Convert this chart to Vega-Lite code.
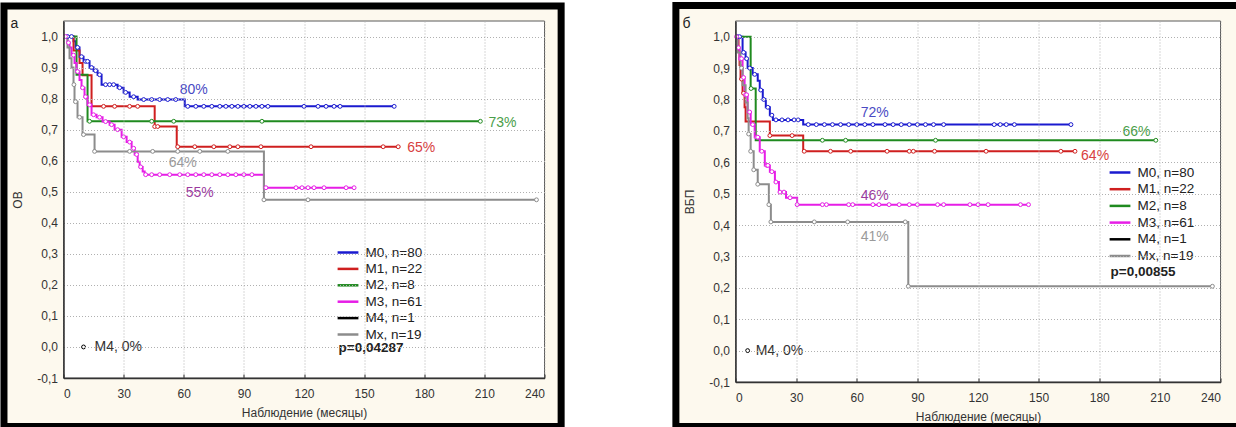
{
  "$schema": "https://vega.github.io/schema/vega-lite/v6.json",
  "padding": {"left": -0.5, "top": 2, "right": 0, "bottom": 0},
  "spacing": 106,
  "config": {"font": "Liberation Sans", "view": {"stroke": null},
    "locale": {"number": {"decimal": ",", "thousands": " ", "grouping": [3], "currency": ["", ""], "minus": "-"}}},
  "resolve": {
    "scale": {"x": "independent", "y": "independent", "stroke": "independent", "fill": "independent"},
    "legend": {"stroke": "independent"},
    "axis": {"x": "independent", "y": "independent"}
  },
  "datasets": {
    "F": [{"one": 1}],
    "A": [
      {"g":"M0","k":"l","t":0,"s":1},{"g":"M0","k":"l","t":5,"s":0.985},{"g":"M0","k":"l","t":6,"s":0.965},{"g":"M0","k":"l","t":8,"s":0.935},{"g":"M0","k":"l","t":10,"s":0.92},{"g":"M0","k":"l","t":13,"s":0.9},{"g":"M0","k":"l","t":15,"s":0.89},{"g":"M0","k":"l","t":17,"s":0.877},{"g":"M0","k":"l","t":19,"s":0.845},{"g":"M0","k":"l","t":27,"s":0.835},{"g":"M0","k":"l","t":30,"s":0.82},{"g":"M0","k":"l","t":33,"s":0.806},{"g":"M0","k":"l","t":37,"s":0.797},{"g":"M0","k":"l","t":60.5,"s":0.775},{"g":"M0","k":"l","t":165,"s":0.775},
      {"g":"M0","k":"c","t":2,"s":1},{"g":"M0","k":"c","t":4,"s":1},{"g":"M0","k":"c","t":7,"s":0.965},{"g":"M0","k":"c","t":9,"s":0.935},{"g":"M0","k":"c","t":11,"s":0.92},{"g":"M0","k":"c","t":12,"s":0.92},{"g":"M0","k":"c","t":14,"s":0.9},{"g":"M0","k":"c","t":16,"s":0.89},{"g":"M0","k":"c","t":18,"s":0.877},{"g":"M0","k":"c","t":21,"s":0.845},{"g":"M0","k":"c","t":23,"s":0.845},{"g":"M0","k":"c","t":25,"s":0.845},{"g":"M0","k":"c","t":28,"s":0.835},{"g":"M0","k":"c","t":31,"s":0.82},{"g":"M0","k":"c","t":35,"s":0.806},{"g":"M0","k":"c","t":40,"s":0.797},{"g":"M0","k":"c","t":44,"s":0.797},{"g":"M0","k":"c","t":48,"s":0.797},{"g":"M0","k":"c","t":52,"s":0.797},{"g":"M0","k":"c","t":56,"s":0.797},{"g":"M0","k":"c","t":62,"s":0.775},{"g":"M0","k":"c","t":66,"s":0.775},{"g":"M0","k":"c","t":70,"s":0.775},{"g":"M0","k":"c","t":74,"s":0.775},{"g":"M0","k":"c","t":78,"s":0.775},{"g":"M0","k":"c","t":81,"s":0.775},{"g":"M0","k":"c","t":84,"s":0.775},{"g":"M0","k":"c","t":87,"s":0.775},{"g":"M0","k":"c","t":90,"s":0.775},{"g":"M0","k":"c","t":93,"s":0.775},{"g":"M0","k":"c","t":96,"s":0.775},{"g":"M0","k":"c","t":99,"s":0.775},{"g":"M0","k":"c","t":102,"s":0.775},{"g":"M0","k":"c","t":120,"s":0.775},{"g":"M0","k":"c","t":127,"s":0.775},{"g":"M0","k":"c","t":131,"s":0.775},{"g":"M0","k":"c","t":135,"s":0.775},{"g":"M0","k":"c","t":138,"s":0.775},{"g":"M0","k":"c","t":165,"s":0.775},
      {"g":"M1","k":"l","t":0,"s":1},{"g":"M1","k":"l","t":5,"s":0.955},{"g":"M1","k":"l","t":8,"s":0.915},{"g":"M1","k":"l","t":9.5,"s":0.875},{"g":"M1","k":"l","t":14,"s":0.775},{"g":"M1","k":"l","t":45.5,"s":0.71},{"g":"M1","k":"l","t":56.5,"s":0.645},{"g":"M1","k":"l","t":168,"s":0.645},
      {"g":"M1","k":"c","t":20,"s":0.775},{"g":"M1","k":"c","t":25.5,"s":0.775},{"g":"M1","k":"c","t":33,"s":0.775},{"g":"M1","k":"c","t":37,"s":0.775},{"g":"M1","k":"c","t":45.5,"s":0.71},{"g":"M1","k":"c","t":47,"s":0.71},{"g":"M1","k":"c","t":57,"s":0.645},{"g":"M1","k":"c","t":65.5,"s":0.645},{"g":"M1","k":"c","t":75,"s":0.645},{"g":"M1","k":"c","t":83,"s":0.645},{"g":"M1","k":"c","t":87,"s":0.645},{"g":"M1","k":"c","t":98.5,"s":0.645},{"g":"M1","k":"c","t":123.5,"s":0.645},{"g":"M1","k":"c","t":159.5,"s":0.645},{"g":"M1","k":"c","t":167,"s":0.645},
      {"g":"M2","k":"l","t":0,"s":1},{"g":"M2","k":"l","t":6.5,"s":0.877},{"g":"M2","k":"l","t":12,"s":0.727},{"g":"M2","k":"l","t":208,"s":0.727},
      {"g":"M2","k":"c","t":13,"s":0.727},{"g":"M2","k":"c","t":44,"s":0.727},{"g":"M2","k":"c","t":55,"s":0.727},{"g":"M2","k":"c","t":99,"s":0.727},{"g":"M2","k":"c","t":208,"s":0.727},
      {"g":"M3","k":"l","t":0,"s":1},{"g":"M3","k":"l","t":2,"s":0.98},{"g":"M3","k":"l","t":3,"s":0.965},{"g":"M3","k":"l","t":4,"s":0.94},{"g":"M3","k":"l","t":5.5,"s":0.915},{"g":"M3","k":"l","t":6.5,"s":0.887},{"g":"M3","k":"l","t":8,"s":0.86},{"g":"M3","k":"l","t":9,"s":0.835},{"g":"M3","k":"l","t":10.5,"s":0.806},{"g":"M3","k":"l","t":12,"s":0.78},{"g":"M3","k":"l","t":14,"s":0.748},{"g":"M3","k":"l","t":16.5,"s":0.74},{"g":"M3","k":"l","t":19.5,"s":0.726},{"g":"M3","k":"l","t":23,"s":0.716},{"g":"M3","k":"l","t":25.5,"s":0.7},{"g":"M3","k":"l","t":29,"s":0.677},{"g":"M3","k":"l","t":31.5,"s":0.66},{"g":"M3","k":"l","t":34,"s":0.64},{"g":"M3","k":"l","t":35.5,"s":0.62},{"g":"M3","k":"l","t":37,"s":0.597},{"g":"M3","k":"l","t":38,"s":0.58},{"g":"M3","k":"l","t":39.5,"s":0.565},{"g":"M3","k":"l","t":40.5,"s":0.555},{"g":"M3","k":"l","t":100,"s":0.513},{"g":"M3","k":"l","t":145,"s":0.513},
      {"g":"M3","k":"c","t":1,"s":1},{"g":"M3","k":"c","t":2.5,"s":0.98},{"g":"M3","k":"c","t":5,"s":0.94},{"g":"M3","k":"c","t":7,"s":0.887},{"g":"M3","k":"c","t":9.5,"s":0.835},{"g":"M3","k":"c","t":11,"s":0.806},{"g":"M3","k":"c","t":13,"s":0.78},{"g":"M3","k":"c","t":15,"s":0.748},{"g":"M3","k":"c","t":18,"s":0.74},{"g":"M3","k":"c","t":21,"s":0.726},{"g":"M3","k":"c","t":24,"s":0.716},{"g":"M3","k":"c","t":27,"s":0.7},{"g":"M3","k":"c","t":30,"s":0.677},{"g":"M3","k":"c","t":33,"s":0.66},{"g":"M3","k":"c","t":35,"s":0.64},{"g":"M3","k":"c","t":36.5,"s":0.62},{"g":"M3","k":"c","t":38.5,"s":0.58},{"g":"M3","k":"c","t":41,"s":0.555},{"g":"M3","k":"c","t":44,"s":0.555},{"g":"M3","k":"c","t":48,"s":0.555},{"g":"M3","k":"c","t":53,"s":0.555},{"g":"M3","k":"c","t":58,"s":0.555},{"g":"M3","k":"c","t":62,"s":0.555},{"g":"M3","k":"c","t":66,"s":0.555},{"g":"M3","k":"c","t":70,"s":0.555},{"g":"M3","k":"c","t":74,"s":0.555},{"g":"M3","k":"c","t":78,"s":0.555},{"g":"M3","k":"c","t":82,"s":0.555},{"g":"M3","k":"c","t":86,"s":0.555},{"g":"M3","k":"c","t":90,"s":0.555},{"g":"M3","k":"c","t":94,"s":0.555},{"g":"M3","k":"c","t":101,"s":0.513},{"g":"M3","k":"c","t":116,"s":0.513},{"g":"M3","k":"c","t":119,"s":0.513},{"g":"M3","k":"c","t":122,"s":0.513},{"g":"M3","k":"c","t":125,"s":0.513},{"g":"M3","k":"c","t":130,"s":0.513},{"g":"M3","k":"c","t":141,"s":0.513},{"g":"M3","k":"c","t":145,"s":0.513},
      {"g":"Mx","k":"l","t":0,"s":1},{"g":"Mx","k":"l","t":2,"s":0.965},{"g":"Mx","k":"l","t":3,"s":0.93},{"g":"Mx","k":"l","t":4,"s":0.9},{"g":"Mx","k":"l","t":5,"s":0.845},{"g":"Mx","k":"l","t":5.5,"s":0.79},{"g":"Mx","k":"l","t":7,"s":0.74},{"g":"Mx","k":"l","t":9.5,"s":0.684},{"g":"Mx","k":"l","t":15.5,"s":0.63},{"g":"Mx","k":"l","t":100,"s":0.474},{"g":"Mx","k":"l","t":236,"s":0.474},
      {"g":"Mx","k":"c","t":5.2,"s":0.845},{"g":"Mx","k":"c","t":6,"s":0.79},{"g":"Mx","k":"c","t":8,"s":0.74},{"g":"Mx","k":"c","t":10,"s":0.684},{"g":"Mx","k":"c","t":15.5,"s":0.63},{"g":"Mx","k":"c","t":33,"s":0.63},{"g":"Mx","k":"c","t":44.5,"s":0.63},{"g":"Mx","k":"c","t":57,"s":0.63},{"g":"Mx","k":"c","t":68,"s":0.63},{"g":"Mx","k":"c","t":82,"s":0.63},{"g":"Mx","k":"c","t":100,"s":0.474},{"g":"Mx","k":"c","t":122,"s":0.474},{"g":"Mx","k":"c","t":236,"s":0.474},
      {"g":"M4","k":"c","t":10,"s":0},
      {"g":"M0","k":"t","t":58,"s":0.829,"txt":"80%"},{"g":"M2","k":"t","t":212,"s":0.723,"txt":"73%"},{"g":"M1","k":"t","t":171.5,"s":0.642,"txt":"65%"},{"g":"Mx","k":"t","t":52.5,"s":0.593,"txt":"64%"},{"g":"M3","k":"t","t":61,"s":0.497,"txt":"55%"},{"g":"M4","k":"t","t":15.5,"s":0,"txt":"M4, 0%"}
    ],
    "B": [
      {"g":"M0","k":"l","t":0,"s":1},{"g":"M0","k":"l","t":3.5,"s":0.95},{"g":"M0","k":"l","t":5,"s":0.93},{"g":"M0","k":"l","t":6,"s":0.9},{"g":"M0","k":"l","t":8.5,"s":0.88},{"g":"M0","k":"l","t":11,"s":0.86},{"g":"M0","k":"l","t":12,"s":0.83},{"g":"M0","k":"l","t":13.5,"s":0.8},{"g":"M0","k":"l","t":15,"s":0.775},{"g":"M0","k":"l","t":17,"s":0.75},{"g":"M0","k":"l","t":18.5,"s":0.735},{"g":"M0","k":"l","t":33.5,"s":0.72},{"g":"M0","k":"l","t":166,"s":0.72},
      {"g":"M0","k":"c","t":1,"s":1},{"g":"M0","k":"c","t":2,"s":1},{"g":"M0","k":"c","t":4,"s":0.95},{"g":"M0","k":"c","t":5.5,"s":0.93},{"g":"M0","k":"c","t":7,"s":0.9},{"g":"M0","k":"c","t":9.5,"s":0.88},{"g":"M0","k":"c","t":12.5,"s":0.83},{"g":"M0","k":"c","t":14,"s":0.8},{"g":"M0","k":"c","t":16,"s":0.775},{"g":"M0","k":"c","t":18,"s":0.75},{"g":"M0","k":"c","t":20,"s":0.735},{"g":"M0","k":"c","t":23,"s":0.735},{"g":"M0","k":"c","t":26,"s":0.735},{"g":"M0","k":"c","t":29,"s":0.735},{"g":"M0","k":"c","t":31,"s":0.735},{"g":"M0","k":"c","t":36,"s":0.72},{"g":"M0","k":"c","t":40,"s":0.72},{"g":"M0","k":"c","t":44,"s":0.72},{"g":"M0","k":"c","t":48,"s":0.72},{"g":"M0","k":"c","t":52,"s":0.72},{"g":"M0","k":"c","t":56,"s":0.72},{"g":"M0","k":"c","t":60,"s":0.72},{"g":"M0","k":"c","t":64,"s":0.72},{"g":"M0","k":"c","t":68,"s":0.72},{"g":"M0","k":"c","t":74,"s":0.72},{"g":"M0","k":"c","t":78,"s":0.72},{"g":"M0","k":"c","t":82,"s":0.72},{"g":"M0","k":"c","t":86,"s":0.72},{"g":"M0","k":"c","t":90,"s":0.72},{"g":"M0","k":"c","t":94,"s":0.72},{"g":"M0","k":"c","t":98,"s":0.72},{"g":"M0","k":"c","t":103,"s":0.72},{"g":"M0","k":"c","t":128,"s":0.72},{"g":"M0","k":"c","t":131,"s":0.72},{"g":"M0","k":"c","t":134,"s":0.72},{"g":"M0","k":"c","t":138,"s":0.72},{"g":"M0","k":"c","t":166,"s":0.72},
      {"g":"M1","k":"l","t":0,"s":1},{"g":"M1","k":"l","t":1.5,"s":0.955},{"g":"M1","k":"l","t":2,"s":0.91},{"g":"M1","k":"l","t":2.5,"s":0.865},{"g":"M1","k":"l","t":3.5,"s":0.82},{"g":"M1","k":"l","t":4.5,"s":0.775},{"g":"M1","k":"l","t":5,"s":0.73},{"g":"M1","k":"l","t":17,"s":0.685},{"g":"M1","k":"l","t":33.5,"s":0.635},{"g":"M1","k":"l","t":168,"s":0.635},
      {"g":"M1","k":"c","t":3,"s":0.865},{"g":"M1","k":"c","t":4,"s":0.82},{"g":"M1","k":"c","t":17,"s":0.685},{"g":"M1","k":"c","t":28,"s":0.685},{"g":"M1","k":"c","t":34,"s":0.635},{"g":"M1","k":"c","t":47,"s":0.635},{"g":"M1","k":"c","t":57,"s":0.635},{"g":"M1","k":"c","t":75,"s":0.635},{"g":"M1","k":"c","t":86,"s":0.635},{"g":"M1","k":"c","t":88,"s":0.635},{"g":"M1","k":"c","t":98.5,"s":0.635},{"g":"M1","k":"c","t":124,"s":0.635},{"g":"M1","k":"c","t":161,"s":0.635},{"g":"M1","k":"c","t":168,"s":0.635},
      {"g":"M2","k":"l","t":0,"s":1},{"g":"M2","k":"l","t":7.5,"s":0.835},{"g":"M2","k":"l","t":10,"s":0.67},{"g":"M2","k":"l","t":208,"s":0.67},
      {"g":"M2","k":"c","t":7.7,"s":0.835},{"g":"M2","k":"c","t":43,"s":0.67},{"g":"M2","k":"c","t":54.5,"s":0.67},{"g":"M2","k":"c","t":99,"s":0.67},{"g":"M2","k":"c","t":208,"s":0.67},
      {"g":"M3","k":"l","t":0,"s":1},{"g":"M3","k":"l","t":1,"s":0.965},{"g":"M3","k":"l","t":2,"s":0.93},{"g":"M3","k":"l","t":3.5,"s":0.87},{"g":"M3","k":"l","t":4.5,"s":0.815},{"g":"M3","k":"l","t":6,"s":0.76},{"g":"M3","k":"l","t":7.5,"s":0.72},{"g":"M3","k":"l","t":9.5,"s":0.68},{"g":"M3","k":"l","t":12,"s":0.635},{"g":"M3","k":"l","t":14.5,"s":0.59},{"g":"M3","k":"l","t":17,"s":0.57},{"g":"M3","k":"l","t":19.5,"s":0.537},{"g":"M3","k":"l","t":21.5,"s":0.505},{"g":"M3","k":"l","t":25,"s":0.487},{"g":"M3","k":"l","t":30.5,"s":0.465},{"g":"M3","k":"l","t":145,"s":0.465},
      {"g":"M3","k":"c","t":0.5,"s":1},{"g":"M3","k":"c","t":1.5,"s":0.965},{"g":"M3","k":"c","t":2.5,"s":0.93},{"g":"M3","k":"c","t":3,"s":0.93},{"g":"M3","k":"c","t":4,"s":0.87},{"g":"M3","k":"c","t":5,"s":0.815},{"g":"M3","k":"c","t":5.5,"s":0.815},{"g":"M3","k":"c","t":7,"s":0.76},{"g":"M3","k":"c","t":8.5,"s":0.72},{"g":"M3","k":"c","t":10.5,"s":0.68},{"g":"M3","k":"c","t":11,"s":0.68},{"g":"M3","k":"c","t":13,"s":0.635},{"g":"M3","k":"c","t":15.5,"s":0.59},{"g":"M3","k":"c","t":16,"s":0.59},{"g":"M3","k":"c","t":18,"s":0.57},{"g":"M3","k":"c","t":20,"s":0.537},{"g":"M3","k":"c","t":22,"s":0.505},{"g":"M3","k":"c","t":24,"s":0.505},{"g":"M3","k":"c","t":27,"s":0.487},{"g":"M3","k":"c","t":30.5,"s":0.465},{"g":"M3","k":"c","t":43,"s":0.465},{"g":"M3","k":"c","t":45,"s":0.465},{"g":"M3","k":"c","t":56,"s":0.465},{"g":"M3","k":"c","t":58,"s":0.465},{"g":"M3","k":"c","t":68,"s":0.465},{"g":"M3","k":"c","t":71,"s":0.465},{"g":"M3","k":"c","t":76,"s":0.465},{"g":"M3","k":"c","t":81,"s":0.465},{"g":"M3","k":"c","t":86,"s":0.465},{"g":"M3","k":"c","t":90,"s":0.465},{"g":"M3","k":"c","t":100,"s":0.465},{"g":"M3","k":"c","t":103,"s":0.465},{"g":"M3","k":"c","t":116,"s":0.465},{"g":"M3","k":"c","t":120,"s":0.465},{"g":"M3","k":"c","t":125,"s":0.465},{"g":"M3","k":"c","t":141,"s":0.465},{"g":"M3","k":"c","t":145,"s":0.465},
      {"g":"Mx","k":"l","t":0,"s":1},{"g":"Mx","k":"l","t":1,"s":0.95},{"g":"Mx","k":"l","t":2.5,"s":0.9},{"g":"Mx","k":"l","t":3.5,"s":0.845},{"g":"Mx","k":"l","t":5,"s":0.79},{"g":"Mx","k":"l","t":6,"s":0.74},{"g":"Mx","k":"l","t":6.5,"s":0.69},{"g":"Mx","k":"l","t":7.5,"s":0.635},{"g":"Mx","k":"l","t":9,"s":0.576},{"g":"Mx","k":"l","t":11,"s":0.53},{"g":"Mx","k":"l","t":16.5,"s":0.465},{"g":"Mx","k":"l","t":17.5,"s":0.41},{"g":"Mx","k":"l","t":85.5,"s":0.205},{"g":"Mx","k":"l","t":236,"s":0.205},
      {"g":"Mx","k":"c","t":3,"s":0.9},{"g":"Mx","k":"c","t":6.5,"s":0.69},{"g":"Mx","k":"c","t":7.5,"s":0.635},{"g":"Mx","k":"c","t":9,"s":0.576},{"g":"Mx","k":"c","t":11,"s":0.53},{"g":"Mx","k":"c","t":16.5,"s":0.465},{"g":"Mx","k":"c","t":17.5,"s":0.41},{"g":"Mx","k":"c","t":39,"s":0.41},{"g":"Mx","k":"c","t":55.5,"s":0.41},{"g":"Mx","k":"c","t":84,"s":0.41},{"g":"Mx","k":"c","t":85.5,"s":0.205},{"g":"Mx","k":"c","t":236,"s":0.205},
      {"g":"M4","k":"c","t":6,"s":0},
      {"g":"M0","k":"t","t":62,"s":0.757,"txt":"72%"},{"g":"M2","k":"t","t":191.5,"s":0.697,"txt":"66%"},{"g":"M1","k":"t","t":171,"s":0.62,"txt":"64%"},{"g":"M3","k":"t","t":62,"s":0.493,"txt":"46%"},{"g":"Mx","k":"t","t":62,"s":0.363,"txt":"41%"},{"g":"M4","k":"t","t":10,"s":0,"txt":"M4, 0%"}
    ]
  },
  "hconcat": [
    {
      "width": 481, "height": 357,
      "layer": [
        {"data": {"name": "F"}, "mark": {"type": "rect", "fill": "#fdf9ee", "stroke": "#000", "strokeWidth": 7},
          "encoding": {"x": {"datum": -29.7, "type": "quantitative"}, "x2": {"datum": 248.3}, "y": {"datum": 1.098, "type": "quantitative"}, "y2": {"datum": -0.256}}},
        {"data": {"name": "F"}, "mark": {"type": "rect", "fill": "#ffffff", "stroke": "#5a5a5a", "strokeWidth": 1},
          "encoding": {"x": {"datum": 0, "type": "quantitative"}, "x2": {"datum": 240}, "y": {"datum": -0.1, "type": "quantitative"}, "y2": {"datum": 1.05}}},
        {"data": {"name": "A"}, "transform": [{"filter": "datum.k === 'l'"}], "mark": {"type": "line", "interpolate": "step-after", "strokeWidth": 2},
          "encoding": {
            "x": {"field": "t", "type": "quantitative", "scale": {"domain": [0, 240], "nice": false, "zero": false},
              "axis": {"title": "Наблюдение (месяцы)", "values": [0,30,60,90,120,150,180,210,240], "tickCount": 20, "labelOverlap": false, "grid": true, "gridDash": [1,2], "gridColor": "#b0b0b0", "domainColor": "#333", "domainWidth": 1.5, "ticks": true, "tickSize": -4, "tickColor": "#333", "labelFontSize": 12, "labelColor": "#333", "labelPadding": 14, "titleFontSize": 12, "titleFontWeight": "normal", "titleColor": "#333", "titlePadding": 8, "zindex": 1}},
            "y": {"field": "s", "type": "quantitative", "scale": {"domain": [-0.1, 1.05], "nice": false, "zero": false},
              "axis": {"title": "ОВ", "values": [-0.1,0,0.1,0.2,0.3,0.4,0.5,0.6,0.7,0.8,0.9,1], "tickCount": 20, "format": ".1f", "labelOverlap": false, "grid": true, "gridDash": [1,2], "gridColor": "#b0b0b0", "domainColor": "#333", "domainWidth": 1.5, "ticks": false, "labelFontSize": 12, "labelColor": "#333", "labelPadding": 6, "titleFontSize": 12, "titleFontWeight": "normal", "titleColor": "#333", "titlePadding": 12, "zindex": 1}},
            "stroke": {"field": "g", "type": "nominal",
            "scale": {"domain": ["M0","M1","M2","M3","M4","Mx"], "range": ["#1a1acf","#cf1f1f","#1f8a1f","#e61ee6","#000000","#8c8c8c"]},
            "legend": {"orient": "none", "legendX": 275, "legendY": 222, "padding": 0, "symbolType": "M-1.3,0H1.3", "symbolSize": 256, "symbolStrokeWidth": 2.5, "labelFontSize": 13.5, "labelColor": "#222", "labelOffset": 8, "rowPadding": 0.4,
              "labelExpr": "datum.label == 'M0' ? 'M0, n=80' : datum.label == 'M1' ? 'M1, n=22' : datum.label == 'M2' ? 'M2, n=8' : datum.label == 'M3' ? 'M3, n=61' : datum.label == 'M4' ? 'M4, n=1' : 'Mx, n=19'",
              "title": "p=0,04287", "titleOrient": "bottom", "titleAnchor": "start", "titleFontSize": 13.5, "titleFontWeight": "bold", "titleColor": "#222", "titlePadding": 0}}}},
        {"data": {"name": "A"}, "transform": [{"filter": "datum.k === 'c'"}], "mark": {"type": "point", "shape": "circle", "filled": false, "fill": "#ffffff", "fillOpacity": 1, "size": 15, "strokeWidth": 1, "opacity": 1},
          "encoding": {"x": {"field": "t", "type": "quantitative"}, "y": {"field": "s", "type": "quantitative"},
            "stroke": {"field": "g", "type": "nominal", "legend": null,
            "scale": {"domain": ["M0","M1","M2","M3","M4","Mx"], "range": ["#1a1acf","#cf1f1f","#1f8a1f","#e61ee6","#000000","#8c8c8c"]}}}},
        {"data": {"name": "A"}, "transform": [{"filter": "datum.k === 't'"}], "mark": {"type": "text", "align": "left", "baseline": "middle", "fontSize": 14},
          "encoding": {"x": {"field": "t", "type": "quantitative"}, "y": {"field": "s", "type": "quantitative"}, "text": {"field": "txt"}, "fill": {"field": "g", "type": "nominal", "legend": null,
            "scale": {"domain": ["M0","M1","M2","M3","M4","Mx"], "range": ["#4a4ac4","#d84040","#4a9e4a","#9b3a9e","#333333","#9a9a9a"]}}}},
        {"data": {"name": "F"}, "mark": {"type": "text", "text": "а", "fontSize": 14, "align": "left", "baseline": "alphabetic", "color": "#222"},
          "encoding": {"x": {"datum": -26.5, "type": "quantitative"}, "y": {"datum": 1.029, "type": "quantitative"}}}
      ]
    },
    {
      "width": 485, "height": 361,
      "layer": [
        {"data": {"name": "F"}, "mark": {"type": "rect", "fill": "#fdf9ee", "stroke": "#000", "strokeWidth": 7},
          "encoding": {"x": {"datum": -29.5, "type": "quantitative"}, "x2": {"datum": 250}, "y": {"datum": 1.099, "type": "quantitative"}, "y2": {"datum": -0.242}}},
        {"data": {"name": "F"}, "mark": {"type": "rect", "fill": "#ffffff", "stroke": "#5a5a5a", "strokeWidth": 1},
          "encoding": {"x": {"datum": 0, "type": "quantitative"}, "x2": {"datum": 240}, "y": {"datum": -0.1, "type": "quantitative"}, "y2": {"datum": 1.05}}},
        {"data": {"name": "B"}, "transform": [{"filter": "datum.k === 'l'"}], "mark": {"type": "line", "interpolate": "step-after", "strokeWidth": 2},
          "encoding": {
            "x": {"field": "t", "type": "quantitative", "scale": {"domain": [0, 240], "nice": false, "zero": false},
              "axis": {"title": "Наблюдение (месяцы)", "values": [0,30,60,90,120,150,180,210,240], "tickCount": 20, "labelOverlap": false, "grid": true, "gridDash": [1,2], "gridColor": "#b0b0b0", "domainColor": "#333", "domainWidth": 1.5, "ticks": true, "tickSize": -4, "tickColor": "#333", "labelFontSize": 12, "labelColor": "#333", "labelPadding": 14, "titleFontSize": 12, "titleFontWeight": "normal", "titleColor": "#333", "titlePadding": 8, "zindex": 1}},
            "y": {"field": "s", "type": "quantitative", "scale": {"domain": [-0.1, 1.05], "nice": false, "zero": false},
              "axis": {"title": "ВБП", "values": [-0.1,0,0.1,0.2,0.3,0.4,0.5,0.6,0.7,0.8,0.9,1], "tickCount": 20, "format": ".1f", "labelOverlap": false, "grid": true, "gridDash": [1,2], "gridColor": "#b0b0b0", "domainColor": "#333", "domainWidth": 1.5, "ticks": false, "labelFontSize": 12, "labelColor": "#333", "labelPadding": 6, "titleFontSize": 12, "titleFontWeight": "normal", "titleColor": "#333", "titlePadding": 12, "zindex": 1}},
            "stroke": {"field": "g", "type": "nominal",
            "scale": {"domain": ["M0","M1","M2","M3","M4","Mx"], "range": ["#1a1acf","#cf1f1f","#1f8a1f","#e61ee6","#000000","#8c8c8c"]},
            "legend": {"orient": "none", "legendX": 375, "legendY": 142, "padding": 0, "symbolType": "M-1.3,0H1.3", "symbolSize": 256, "symbolStrokeWidth": 2.5, "labelFontSize": 13.5, "labelColor": "#222", "labelOffset": 8, "rowPadding": 0.7,
              "labelExpr": "datum.label == 'M0' ? 'M0, n=80' : datum.label == 'M1' ? 'M1, n=22' : datum.label == 'M2' ? 'M2, n=8' : datum.label == 'M3' ? 'M3, n=61' : datum.label == 'M4' ? 'M4, n=1' : 'Mx, n=19'",
              "title": "p=0,00855", "titleOrient": "bottom", "titleAnchor": "start", "titleFontSize": 13.5, "titleFontWeight": "bold", "titleColor": "#222", "titlePadding": 2}}}},
        {"data": {"name": "B"}, "transform": [{"filter": "datum.k === 'c'"}], "mark": {"type": "point", "shape": "circle", "filled": false, "fill": "#ffffff", "fillOpacity": 1, "size": 15, "strokeWidth": 1, "opacity": 1},
          "encoding": {"x": {"field": "t", "type": "quantitative"}, "y": {"field": "s", "type": "quantitative"},
            "stroke": {"field": "g", "type": "nominal", "legend": null,
            "scale": {"domain": ["M0","M1","M2","M3","M4","Mx"], "range": ["#1a1acf","#cf1f1f","#1f8a1f","#e61ee6","#000000","#8c8c8c"]}}}},
        {"data": {"name": "B"}, "transform": [{"filter": "datum.k === 't'"}], "mark": {"type": "text", "align": "left", "baseline": "middle", "fontSize": 14},
          "encoding": {"x": {"field": "t", "type": "quantitative"}, "y": {"field": "s", "type": "quantitative"}, "text": {"field": "txt"}, "fill": {"field": "g", "type": "nominal", "legend": null,
            "scale": {"domain": ["M0","M1","M2","M3","M4","Mx"], "range": ["#4a4ac4","#d84040","#4a9e4a","#9b3a9e","#333333","#9a9a9a"]}}}},
        {"data": {"name": "F"}, "mark": {"type": "text", "text": "б", "fontSize": 14, "align": "left", "baseline": "alphabetic", "color": "#222"},
          "encoding": {"x": {"datum": -26.2, "type": "quantitative"}, "y": {"datum": 1.029, "type": "quantitative"}}}
      ]
    }
  ]
}
